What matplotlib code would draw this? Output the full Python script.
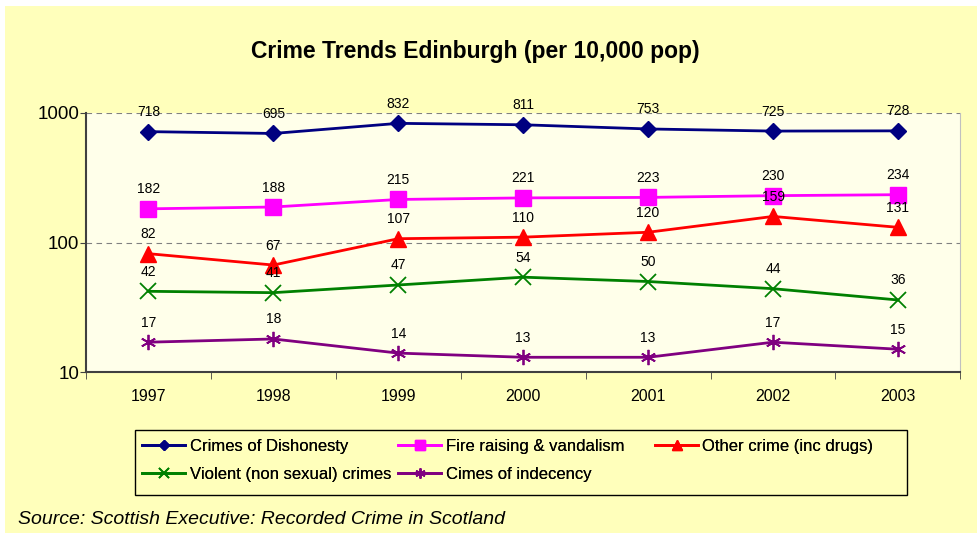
import matplotlib.pyplot as plt
from matplotlib.patches import Rectangle
import numpy as np

years = ['1997', '1998', '1999', '2000', '2001', '2002', '2003']
dishonesty = [718, 695, 832, 811, 753, 725, 728]
fire = [182, 188, 215, 221, 223, 230, 234]
other = [82, 67, 107, 110, 120, 159, 131]
violent = [42, 41, 47, 54, 50, 44, 36]
indecency = [17, 18, 14, 13, 13, 17, 15]

series = [
    ('Crimes of Dishonesty', dishonesty, '#000080', 'D', 8),
    ('Fire raising & vandalism', fire, '#FF00FF', 's', 11),
    ('Other crime (inc drugs)', other, '#FF0000', '^', 11),
    ('Violent (non sexual) crimes', violent, '#008000', 'x', 11),
    ('Cimes of indecency', indecency, '#800080', (6, 2, 0), 11),
]

plt.rcParams['font.family'] = ['Liberation Sans', 'DejaVu Sans']
bg = '#FFFFBB'

fig = plt.figure(figsize=(9.77, 5.33), dpi=100, facecolor='white')
# chart area background (small white margin top/left as in the original)
fig.patches.append(Rectangle((5 / 977, -0.01), 1, 1.01 - 6 / 533, transform=fig.transFigure,
                             facecolor=bg, edgecolor='none', zorder=-1))

ax = fig.add_axes([0.088, 0.302, 0.895, 0.486])
ax.set_facecolor('#FFFFEA')

x = np.arange(len(years))
handles = []
for name, vals, col, mk, ms in series:
    h, = ax.plot(x, vals, color=col, marker=mk, markersize=ms, lw=2,
                 markeredgewidth=1.3 if mk in ('x', (6, 2, 0)) else 1, label=name)
    handles.append(h)
    for xi, v in zip(x, vals):
        ax.annotate(str(v), (xi, v), xytext=(0, 9), textcoords='offset points',
                    ha='center', va='bottom', fontsize=10)

ax.set_yscale('log')
ax.set_ylim(10, 1000)
ax.set_xlim(-0.5, len(years) - 0.5)
ax.set_yticks([10, 100, 1000])
ax.set_yticklabels(['10', '100', '1000'], fontsize=13.5)
ax.yaxis.set_minor_locator(plt.NullLocator())
ax.set_xticks(x)
ax.set_xticklabels(years, fontsize=11.5)
ax.tick_params(axis='x', length=0, pad=12)
ax.set_xticks(np.arange(-0.5, len(years)), minor=True)
ax.tick_params(axis='x', which='minor', length=5, direction='out', color='#404040')
ax.tick_params(axis='y', length=4, pad=1, direction='out', color='#404040')
ax.grid(axis='y', which='major', color='#808080', linestyle=(0, (5, 4)), lw=0.8)
for s in ['left', 'bottom']:
    ax.spines[s].set_color('#404040')
    ax.spines[s].set_linewidth(1.5)
ax.spines['right'].set_color('#C0C0C0')
ax.spines['top'].set_visible(False)

fig.text(0.487, 0.904, 'Crime Trends Edinburgh (per 10,000 pop)', ha='center', va='center',
         fontsize=16.5, fontweight='bold')

# legend box drawn separately; three equal-width columns like Excel
fig.patches.append(Rectangle((0.138, 0.071), 0.790, 0.122, transform=fig.transFigure,
                             facecolor=bg, edgecolor='black', lw=1, zorder=0))
columns = [[0, 3], [1, 4], [2]]
col_x = [142 / 977, 398 / 977, 655 / 977]
for idx, cx in zip(columns, col_x):
    leg = fig.legend([handles[i] for i in idx], [series[i][0] for i in idx],
                     loc='upper left', bbox_to_anchor=(cx, 1 - 439 / 533),
                     fontsize=12, frameon=False, borderpad=0,
                     handlelength=2.6, handletextpad=0.25, borderaxespad=0,
                     labelspacing=0.75, markerscale=0.65)
    fig.add_artist(leg)

fig.text(0.018, 1 - 520 / 533, 'Source: Scottish Executive: Recorded Crime in Scotland',
         fontsize=14, style='italic', ha='left', va='center')

fig.savefig('out.png', dpi=100, facecolor=fig.get_facecolor())
